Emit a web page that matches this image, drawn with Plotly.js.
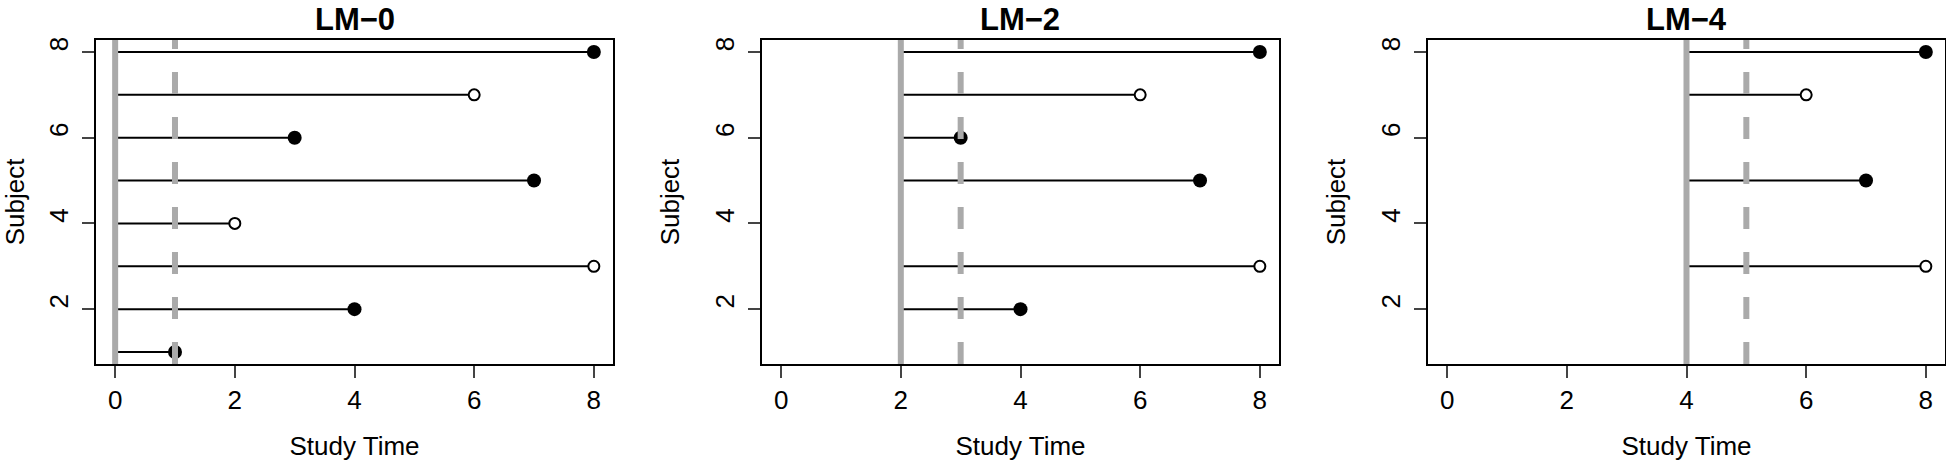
<!DOCTYPE html>
<html>
<head>
<meta charset="utf-8">
<script src="https://cdn.plot.ly/plotly-3.0.1.min.js"></script>
<style>
  html, body { margin: 0; padding: 0; background: #fff; }
  #chart { width: 1946px; height: 461px; }
</style>
</head>
<body>
<div id="chart"></div>
<script>
// subject follow-up data
const subjects = [1, 2, 3, 4, 5, 6, 7, 8];
const times = [1, 4, 8, 2, 7, 3, 6, 8];
const status = [1, 1, 0, 0, 1, 1, 0, 1]; // 1 = event (filled), 0 = censored (open)

// landmark panels
const landmarks = [0, 2, 4];
const horizon = 1; // dashed line sits at landmark + horizon
const panelTitles = ["LM\u22120", "LM\u22122", "LM\u22124"];
const xTicks = [0, 2, 4, 6, 8];
const yTicks = [2, 4, 6, 8];

const W = 1946, H = 461;
const boxLeft = [96, 762, 1428];
const boxWidth = 517;
const boxTop = 40, boxBottom = 364;
const grey = "#aaaaaa";
const font = "Liberation Sans, Arial, sans-serif";

let traces = [];
let shapes = [];
let annotations = [];
let layout = {
    width: W, height: H,
    margin: {l: 0, r: 0, t: 0, b: 0},
    paper_bgcolor: "white", plot_bgcolor: "white",
    showlegend: false,
    font: {family: font, size: 26, color: "black"}
};

for (let p = 0; p < landmarks.length; p++) {
    let s = landmarks[p];
    let n = p + 1;
    let xa = "x" + (n == 1 ? "" : n);
    let ya = "y" + (n == 1 ? "" : n);

    // segments for subjects still at risk at the landmark
    let segX = [], segY = [];
    let evX = [], evY = [], cenX = [], cenY = [];
    for (let i = 0; i < subjects.length; i++) {
        if (times[i] > s) {
            segX.push(s, times[i], null);
            segY.push(subjects[i], subjects[i], null);
            if (status[i] == 1) {
                evX.push(times[i]);
                evY.push(subjects[i]);
            }
            else {
                cenX.push(times[i]);
                cenY.push(subjects[i]);
            }
        }
    }
    traces.push({x: segX, y: segY, xaxis: xa, yaxis: ya, mode: "lines",
                 line: {color: "black", width: 2}});
    traces.push({x: evX, y: evY, xaxis: xa, yaxis: ya, mode: "markers",
                 marker: {symbol: "circle", size: 14, color: "black"}});
    traces.push({x: cenX, y: cenY, xaxis: xa, yaxis: ya, mode: "markers",
                 marker: {symbol: "circle", size: 11, color: "white",
                          line: {color: "black", width: 2}}});

    // axes drawn as a closed box, ticks only on bottom/left
    let d0 = boxLeft[p] / W, d1 = (boxLeft[p] + boxWidth) / W;
    layout["xaxis" + (n == 1 ? "" : n)] = {
        domain: [d0, d1], anchor: ya, range: [-0.32, 8.32],
        tickvals: xTicks, ticks: "outside", ticklen: 12, tickwidth: 2,
        showline: true, mirror: true, linewidth: 2, linecolor: "black",
        showgrid: false, zeroline: false,
        tickfont: {size: 26},
        title: {text: "Study Time", font: {size: 26}, standoff: 60}
    };
    layout["yaxis" + (n == 1 ? "" : n)] = {
        domain: [(H - boxBottom) / H, (H - boxTop) / H], anchor: xa,
        range: [0.72, 8.28],
        tickvals: yTicks, ticks: "outside", ticklen: 12, tickwidth: 2,
        tickangle: -90,
        showline: true, mirror: true, linewidth: 2, linecolor: "black",
        showgrid: false, zeroline: false,
        tickfont: {size: 26}, ticklabelstandoff: 4, ticklabelshift: -4,
        title: {text: "Subject", font: {size: 26}, standoff: 22}
    };

    // landmark (solid) and horizon (dashed) lines
    shapes.push({type: "line", xref: xa, yref: ya + " domain", x0: s, x1: s, y0: 0, y1: 1,
                 line: {color: grey, width: 6}, layer: "above"});
    shapes.push({type: "line", xref: xa, yref: ya + " domain", x0: s + horizon, x1: s + horizon,
                 y0: 0, y1: 1, line: {color: grey, width: 6, dash: "22px,23px"}, layer: "above"});

    annotations.push({text: "<b>" + panelTitles[p] + "</b>", xref: "paper", yref: "paper",
                      x: (d0 + d1) / 2, y: 1, xanchor: "center", yanchor: "top",
                      showarrow: false, font: {size: 31, color: "black"}});
}

layout.shapes = shapes;
layout.annotations = annotations;

Plotly.newPlot("chart", traces, layout, {displayModeBar: false, staticPlot: true});
</script>
</body>
</html>
